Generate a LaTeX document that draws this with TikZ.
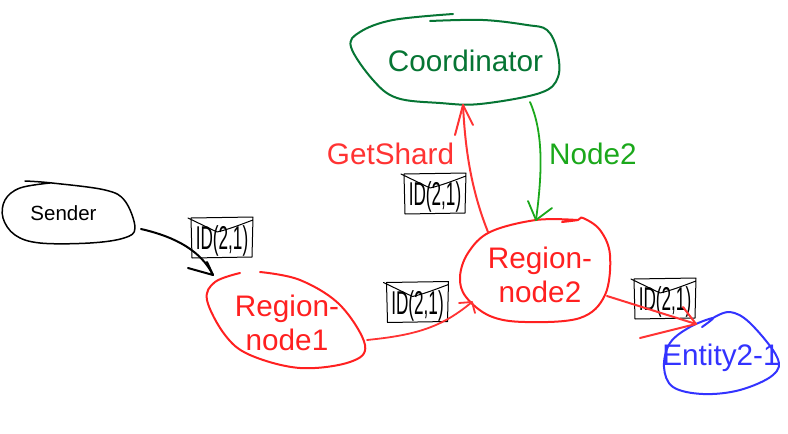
\documentclass[tikz,border=0pt]{standalone}
\usepackage{fontspec}
\setmainfont{Liberation Sans}
\definecolor{coordgreen}{HTML}{067534}
\definecolor{nodegreen}{HTML}{1BA81B}
\definecolor{regionred}{HTML}{FF2020}
\definecolor{getred}{HTML}{FF3333}
\definecolor{entityblue}{HTML}{3333FF}
\tikzset{
	sketch/.style={line width=2pt,line cap=round,line join=round},
	label/.style={inner sep=0pt,align=center,font=\fontsize{#1}{#1}\selectfont},
	label/.default=29.7,
	mailtext/.style={inner sep=0pt,xscale=0.52,font=\fontsize{33}{33}\selectfont}
}
\begin{document}
\begin{tikzpicture}[x=1pt,y=-1pt]
	\useasboundingbox (0,0) rectangle (788,434);
	
	% envelopes
	\foreach \mailname/\mx/\my in {a/222/238,b/435/194,c/417.5/302.5,d/665/299}{
		\draw[line width=1pt,line join=round,line cap=round,shift={(\mx,\my)}] 
			(-34,-20) -- (-5,-6) .. controls (8,-9) and (20,-14) .. (31,-18)
			(-31,-20) -- (31,-21) -- (30,19) -- (-30,20) -- cycle;
		\node[mailtext,text=black] (id\mailname) at (\mx,\my+3) {ID(2,1)};
	}
	
	% sender
	\draw[sketch,line width=1.5pt,smooth,tension=0.6] plot coordinates {(25,181) (52,183) (105,190) (125,201) (135,228) (124,238) (90,243) (40,243) (15,235) (3,218) (5,200) (20,188) (50,183)};
	\node[label=20.5] (sender) at (63.5,213) {Sender};
	
	% coordinator
	\draw[sketch,coordgreen,smooth,tension=0.6] plot coordinates {(453,14) (393,20) (360,32) (351,47) (373,80) (397,98) (440,103) (480,104) (540,93) (558,77) (557,50) (547,30) (527,25) (483,20) (430,21)};
	\node[label,text=coordgreen] (coordinator) at (465.5,61) {Coordinator};
	
	% regions
	\draw[sketch,regionred,smooth,tension=0.6] plot coordinates {(260,272) (300,280) (340,305) (365,345) (350,362) (300,368) (250,355) (225,335) (207,300) (215,282) (240,273)};
	\node[label,text=regionred] (regionone) at (287,323) {Region-\\[5pt]node1};
	\draw[sketch,regionred,smooth,tension=0.6] plot coordinates {(562,222) (578,220) (583,218) (600,230) (610,255) (605,295) (580,318) (525,322) (490,316) (466,297) (460,277) (468,253) (490,232) (536,220) (577,220)};
	\node[label,text=regionred] (regiontwo) at (540,275) {Region-\\[5pt]node2};
	
	% entity
	\draw[sketch,entityblue,smooth,tension=0.6] plot coordinates {(702,327) (713,318) (690,327) (670,343) (664,367) (673,387) (703,394) (740,390) (773,375) (777,357) (750,323) (730,312) (713,318)};
	\node[label,text=entityblue] (entity) at (721,358) {Entity2-1};
	
	\node[label,text=getred] (getshard) at (390.5,154) {GetShard};
	\node[label,text=nodegreen] (nodelabel) at (593,154) {Node2};
	
	\coordinate (senderout) at (141,229);
	\coordinate (oneIn) at (213,275);
	\coordinate (oneOut) at (367,340);
	\coordinate (twoIn) at (472,302);
	\coordinate (twoUp) at (488,232);
	\coordinate (coordIn) at (463,105);
	\coordinate (coordOut) at (530,102);
	\coordinate (twoTop) at (536,220);
	\coordinate (twoOut) at (607,296);
	\coordinate (entityIn) at (696,324);
	
	% connectors
	\draw[sketch] (senderout) .. controls +(35,8) and +(-12,-24) .. (oneIn);
	\draw[sketch] (oneIn) ++(-25,-7) -- (oneIn) -- ++(-6,-13);
	
	\draw[sketch,line width=1.8pt,getred] (oneOut) .. controls +(50,-5) and +(-30,25) .. (twoIn);
	\draw[sketch,line width=1.8pt,getred] (twoIn) ++(-13,1) -- (twoIn) -- ++(3,11);
	
	\draw[sketch,getred] (twoUp) .. controls +(-18,-45) and +(2,40) .. (coordIn);
	\draw[sketch,getred] (coordIn) ++(-8,30) -- (coordIn) -- ++(10,20);
	
	\draw[sketch,line width=1.8pt,nodegreen] (coordOut) .. controls +(14,32) and +(6,-45) .. (twoTop);
	\draw[sketch,line width=1.8pt,nodegreen] (twoTop) ++(-8,-19) -- (twoTop) -- ++(16,-12);
	
	\draw[sketch,getred] (twoOut) -- (entityIn);
	\draw[sketch,getred] (entityIn) ++(-56,14) -- (entityIn) -- ++(-13,-17);
\end{tikzpicture}
\end{document}
